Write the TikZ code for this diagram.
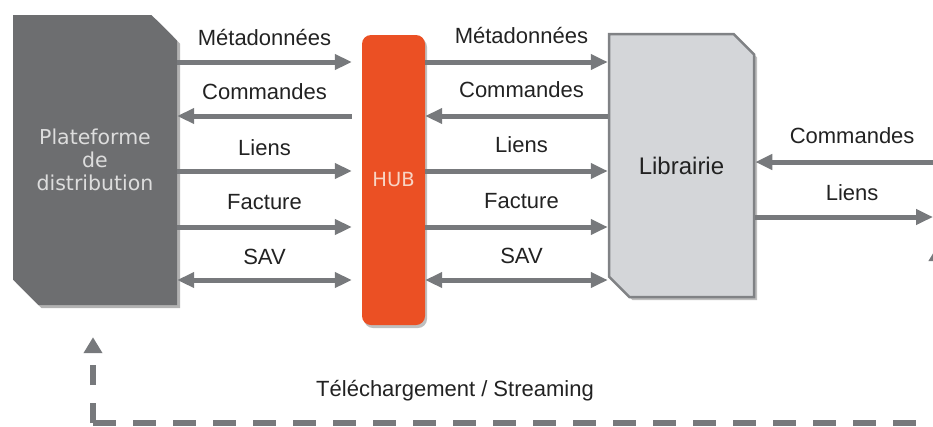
\documentclass[tikz,border=0pt]{standalone}
\usepackage{fontspec}
\setmainfont{Liberation Sans}
\newfontfamily\boxfont{DejaVu Sans}
\usetikzlibrary{arrows.meta,shapes.misc,shadows,calc}
\definecolor{platfill}{HTML}{6D6E70}
\definecolor{plattext}{HTML}{DDDDDD}
\definecolor{hubfill}{HTML}{EB5024}
\definecolor{hubtext}{HTML}{F8D5C5}
\definecolor{libfill}{HTML}{D4D6D9}
\definecolor{libdraw}{HTML}{808285}
\definecolor{arrgray}{HTML}{77797C}
\definecolor{labcol}{HTML}{222222}
\begin{document}
\begin{tikzpicture}[x=1pt,y=-1pt,
  >={Triangle[length=17pt,width=15pt]},
  arr/.style={line width=5pt, draw=arrgray},
  dline/.style={line width=5.5pt, draw=arrgray, dash pattern=on 23pt off 17pt,
    -{Triangle[length=16pt,width=18pt]}},
  vdline/.style={dline, dash pattern=on 20pt off 18pt},
  lab/.style={font=\fontsize{22}{26}\selectfont, text=labcol, inner sep=0pt,
    text height=16pt, text depth=0pt},
  platbox/.style={chamfered rectangle, chamfered rectangle xsep=12.5pt,
    chamfered rectangle ysep=13pt, chamfered rectangle corners={north east, south west},
    fill=platfill, draw=none, minimum width=164pt, minimum height=290pt, inner sep=0pt,
    text=plattext, align=center, font=\boxfont\fontsize{20.5}{23}\selectfont,
    drop shadow={shadow xshift=3pt, shadow yshift=-3pt, opacity=0.3, fill=black}},
  hubbox/.style={rectangle, rounded corners=9pt, fill=hubfill, draw=none,
    minimum width=63pt, minimum height=290pt, inner sep=0pt, text=hubtext,
    font=\boxfont\fontsize{19.5}{22}\selectfont,
    drop shadow={shadow xshift=2pt, shadow yshift=-3pt, opacity=0.25, fill=black}},
  libbox/.style={chamfered rectangle, chamfered rectangle xsep=12.5pt,
    chamfered rectangle ysep=11.5pt, chamfered rectangle corners={north east, south west},
    fill=libfill, draw=libdraw, line width=2.5pt, minimum width=145pt, minimum height=263pt,
    inner sep=0pt, text=labcol, font=\fontsize{24}{28}\selectfont,
    drop shadow={shadow xshift=3pt, shadow yshift=-3pt, opacity=0.25, fill=black}},
]
\useasboundingbox (0,0) rectangle (933,426);
\clip (0,0) rectangle (933,426);

\node[platbox] (plat) at (95,160) {Plateforme\\de\\distribution};
\node[hubbox] (hub) at (393.5,180) {HUB};
\node[libbox] (lib) at (681.5,165.5) {Librairie};

\coordinate (r1) at (0,62);
\coordinate (r2) at (0,116);
\coordinate (r3) at (0,171);
\coordinate (r4) at (0,227);
\coordinate (r5) at (0,280);

% left group
\draw[arr,->,shorten >=10pt] (plat.east |- r1) -- node[lab,xshift=-5pt,yshift=25pt]{Métadonnées} (hub.west |- r1);
\draw[arr,<-,shorten <=0pt,shorten >=10pt] (plat.east |- r2) -- node[lab,xshift=-5pt,yshift=25pt]{Commandes} (hub.west |- r2);
\draw[arr,->,shorten >=10pt] (plat.east |- r3) -- node[lab,xshift=-5pt,yshift=24pt]{Liens} (hub.west |- r3);
\draw[arr,->,shorten >=10pt] (plat.east |- r4) -- node[lab,xshift=-5pt,yshift=26pt]{Facture} (hub.west |- r4);
\draw[arr,<->,shorten >=10pt] (plat.east |- r5) -- node[lab,xshift=-5pt,yshift=24pt]{SAV} (hub.west |- r5);

% right group
\draw[arr,->] (hub.east |- r1) -- node[lab,xshift=5pt,yshift=27pt]{Métadonnées} (lib.west |- r1);
\draw[arr,<-] (hub.east |- r2) -- node[lab,xshift=5pt,yshift=27pt]{Commandes} (lib.west |- r2);
\draw[arr,->] (hub.east |- r3) -- node[lab,xshift=5pt,yshift=27pt]{Liens} (lib.west |- r3);
\draw[arr,->] (hub.east |- r4) -- node[lab,xshift=5pt,yshift=27pt]{Facture} (lib.west |- r4);
\draw[arr,<->] (hub.east |- r5) -- node[lab,xshift=5pt,yshift=25pt]{SAV} (lib.west |- r5);

% far right
\coordinate (e1) at (933,162);
\coordinate (e2) at (933,217);
\draw[arr,->] (e1) -- node[lab,xshift=8pt,yshift=27pt]{Commandes} (lib.east |- e1);
\draw[arr,->] (lib.east |- e2) -- node[lab,xshift=8pt,yshift=25pt]{Liens} (e2);

% download / streaming
\coordinate (dc) at (93,423);
\coordinate (dr) at (938,423);
\coordinate (dt) at (938,245);
\draw[dline] (dc) -- (dr) -- (dt);
\draw[vdline] (dc) -- ($(plat.south -| dc)+(0,-32pt)$);
\node[lab] (dl) at (455,388) {Téléchargement / Streaming};
\end{tikzpicture}
\end{document}
